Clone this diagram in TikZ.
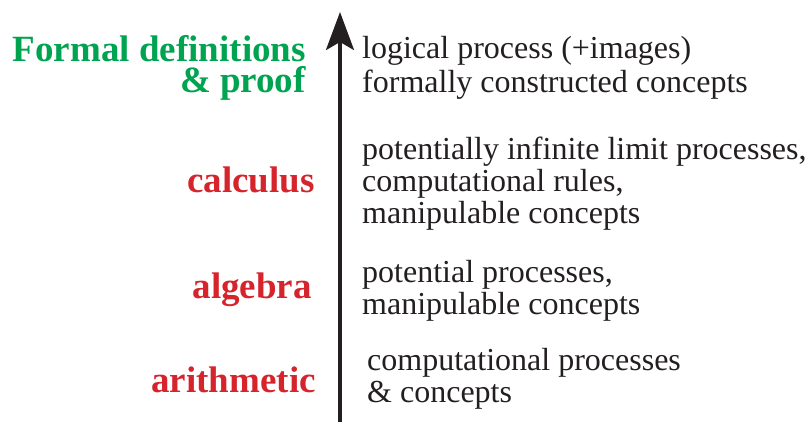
\documentclass[tikz,border=0pt]{standalone}
\usepackage{fontspec}
\setmainfont{Liberation Serif}
\usetikzlibrary{arrows.meta}
\definecolor{fgreen}{RGB}{0,164,80}
\definecolor{fred}{RGB}{213,36,44}
\definecolor{ink}{RGB}{35,31,32}
\tikzset{
  lab/.style={anchor=base east,inner sep=0pt,font=\fontsize{37}{37}\selectfont\bfseries},
  greenlab/.style={anchor=north east,inner sep=0pt,align=right,text=fgreen,font=\fontsize{37}{31}\selectfont\bfseries},
  redlab/.style={lab,text=fred},
  desc/.style={anchor=base west,inner sep=0pt,text=ink,font=\fontsize{32}{33}\selectfont},
  axis/.style={line width=3.5pt,draw=ink,-{Stealth[length=38pt,width=28pt,inset=8pt]}}
}
\begin{document}
\begin{tikzpicture}[x=1pt,y=-1pt]
\useasboundingbox (0,0) rectangle (807,423);
\coordinate (bot) at (340,422);
\coordinate (top) at (340,12);
\draw[axis] (bot) -- (top);
% left labels
\node[greenlab] (fd) at (306,35) {Formal definitions\\\& proof};
\node[redlab] (calc) at (315,192) {calculus};
\node[redlab] (alg) at (312,298) {algebra};
\node[redlab] (arith) at (316,392) {arithmetic};
% right descriptions
\node[desc] (d1) at (362,58) {logical process (+images)};
\node[desc] (d2) at (362,92) {formally constructed concepts};
\node[desc] (d3) at (362,159) {potentially infinite limit processes,};
\node[desc] (d4) at (362,191) {computational rules,};
\node[desc] (d5) at (362,223) {manipulable concepts};
\node[desc] (d6) at (362,282) {potential processes,};
\node[desc] (d7) at (362,314) {manipulable concepts};
\node[desc] (d8) at (367,370) {computational processes};
\node[desc] (d9) at (367,402) {\& concepts};
\end{tikzpicture}
\end{document}
